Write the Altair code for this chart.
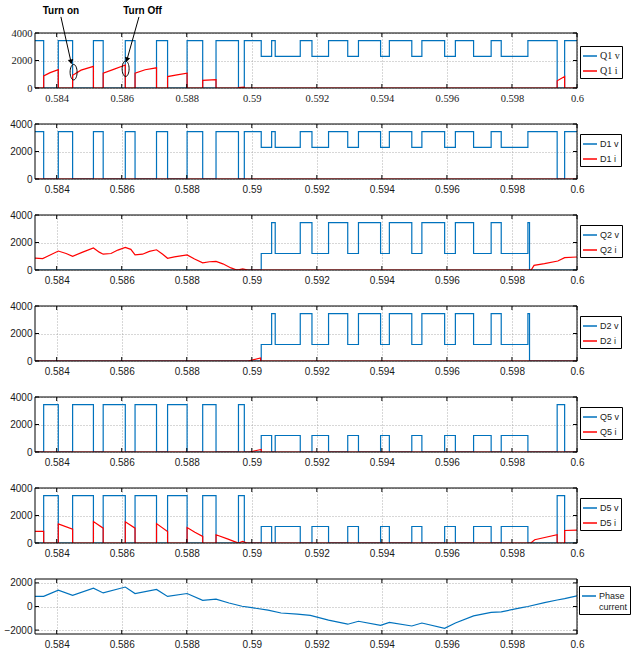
import altair as alt
import pandas as pd

BLUE = "#0072BD"
RED = "#FF0000"
SANS = "Liberation Sans Narrow, Arial Narrow, Liberation Sans, sans-serif"
SERIF = "Liberation Serif, Times New Roman, serif"
T0 = 0.6 - 1 / 60
T1 = 0.6
W, H = 542, 55
X_TICKS = [0.584, 0.586, 0.588, 0.59, 0.592, 0.594, 0.596, 0.598, 0.6]
Y_TICKS = [0, 2000, 4000]
Y_TICKS_PH = [-2000, 0, 2000]

# ---- switch voltages (step signals: time of change, new level) ----
q1v_t = [T0, 0.58360, 0.58405, 0.58449, 0.58513, 0.58543, 0.58611, 0.58641, 0.58707,
         0.58741, 0.58801, 0.58849, 0.58890, 0.58959, 0.58977, 0.59029, 0.59061, 0.59072,
         0.59149, 0.59185, 0.59236, 0.59295, 0.59328, 0.59396, 0.59423, 0.59492, 0.59523,
         0.59593, 0.59626, 0.59682, 0.59736, 0.59767, 0.59849, 0.59939, 0.59962, T1]
q1v = [3450, 0, 3450, 0, 3450, 0, 3450, 0, 3450,
       0, 3450, 0, 3450, 0, 3450, 2300, 3450, 2300,
       3450, 2300, 3450, 2300, 3450, 2300, 3450, 2300, 3450,
       2300, 3450, 2300, 3450, 2300, 3450, 0, 3450, 3450]

d1v_t = q1v_t
d1v = q1v

q2v_t = [T0, 0.59029, 0.59061, 0.59072, 0.59149, 0.59185, 0.59236, 0.59295, 0.59328,
         0.59396, 0.59423, 0.59492, 0.59523, 0.59593, 0.59626, 0.59682, 0.59736, 0.59767,
         0.59849, 0.59854, T1]
q2v = [0, 1200, 3450, 1200, 3450, 1200, 3450, 1200, 3450,
       1200, 3450, 1200, 3450, 1200, 3450, 1200, 3450, 1200,
       3450, 0, 0]

d2v_t = q2v_t
d2v = q2v

q5v_t = [T0, 0.58360, 0.58405, 0.58449, 0.58513, 0.58543, 0.58611, 0.58641, 0.58707,
         0.58741, 0.58801, 0.58849, 0.58890, 0.58959, 0.58977, 0.59029, 0.59061, 0.59072,
         0.59149, 0.59185, 0.59236, 0.59295, 0.59328, 0.59396, 0.59423, 0.59492, 0.59523,
         0.59593, 0.59626, 0.59682, 0.59736, 0.59767, 0.59849, 0.59939, 0.59962, T1]
q5v = [0, 3450, 0, 3450, 0, 3450, 0, 3450, 0,
       3450, 0, 3450, 0, 3450, 0, 1200, 0, 1200,
       0, 1200, 0, 1200, 0, 1200, 0, 1200, 0,
       1200, 0, 1200, 0, 1200, 0, 3450, 0, 0]

d5v_t = q5v_t
d5v = q5v

# ---- switch currents (sampled points; repeated times are jumps) ----
q1i_t = [T0, 0.58360, 0.58360, 0.58380, 0.58405, 0.58405,
         0.58449, 0.58449, 0.58475, 0.58513, 0.58513,
         0.58543, 0.58543, 0.58575, 0.58611, 0.58611,
         0.58641, 0.58641, 0.58672, 0.58707, 0.58707,
         0.58741, 0.58741, 0.58770, 0.58801, 0.58801,
         0.58849, 0.58849, 0.58890, 0.58890,
         0.58959, 0.58959, 0.58977, 0.58977,
         0.59939, 0.59939, 0.59962, 0.59962, T1]
q1i = [0, 0, 880, 1120, 1330, 0,
       0, 920, 1300, 1570, 0,
       0, 1080, 1350, 1670, 0,
       0, 1080, 1330, 1470, 0,
       0, 830, 960, 1080, 0,
       0, 560, 610, 0,
       0, 30, 70, 0,
       0, 520, 840, 0, 0]

d1i_t = [T0, T1]
d1i = [0, 0]

q2i_t = [T0, 0.58357, 0.58372, 0.58405, 0.58429, 0.58449, 0.58480, 0.58513, 0.58531,
         0.58543, 0.58567, 0.58588, 0.58611, 0.58628, 0.58641, 0.58664, 0.58685, 0.58707,
         0.58726, 0.58741, 0.58762, 0.58801, 0.58824, 0.58849, 0.58870, 0.58890, 0.58911,
         0.58936, 0.58952, 0.58962, 0.58972, 0.58988, 0.59859, 0.59868, 0.59900, 0.59941,
         0.59962, T1]
q2i = [870, 830, 1000, 1380, 1200, 1000, 1300, 1600, 1300,
       1150, 1200, 1450, 1650, 1500, 1100, 1150, 1350, 1470,
       1150, 850, 950, 1100, 800, 520, 600, 620, 450,
       150, 20, 30, 80, 0, 0, 340, 460, 655,
       900, 945]

d2i_t = [T0, 0.58988, 0.59027, 0.59027, T1]
d2i = [0, 0, 220, 0, 0]

q5i_t = [T0, 0.58993, 0.59029, 0.59029, T1]
q5i = [0, 0, 190, 0, 0]

d5i_t = [T0, 0.58360, 0.58360, 0.58405, 0.58405, 0.58449, 0.58449,
         0.58513, 0.58513, 0.58543, 0.58543, 0.58611, 0.58611, 0.58641, 0.58641,
         0.58707, 0.58707, 0.58741, 0.58741, 0.58801, 0.58801, 0.58825, 0.58849, 0.58849,
         0.58890, 0.58890, 0.58925, 0.58945, 0.58959, 0.58972, 0.58985, 0.59858, 0.59870,
         0.59939, 0.59939, 0.59962, 0.59962, T1]
d5i = [840, 840, 0, 0, 1390, 1000, 0,
       0, 1560, 1080, 0, 0, 1540, 1080, 0,
       0, 1410, 840, 0, 0, 1130, 780, 480, 0,
       0, 600, 300, 120, 0, 110, 0, 0, 240,
       600, 0, 0, 910, 940]

# ---- phase current ----
ph_t = [T0, 0.58360, 0.58405, 0.58449, 0.58513, 0.58543, 0.58611, 0.58641, 0.58707,
        0.58741, 0.58801, 0.58849, 0.58890, 0.58930, 0.58970, 0.59000, 0.59050, 0.59090,
        0.59140, 0.59180, 0.59236, 0.59295, 0.59328, 0.59396, 0.59423, 0.59492, 0.59523,
        0.59593, 0.59626, 0.59682, 0.59736, 0.59767, 0.59830, 0.59849, 0.59900, 0.59939,
        0.59962, T1]
ph = [850, 860, 1380, 950, 1550, 1150, 1650, 1100, 1450,
      850, 1100, 520, 620, 300, 20, -100, -300, -550,
      -650, -750, -1150, -1500, -1250, -1600, -1350, -1650, -1400,
      -1850, -1400, -800, -500, -450, -100, 0, 330, 550,
      670, 900]

# ---- annotations (panel 1) ----
ann_label = ["Turn on", "Turn Off"]
ann_text_t = [0.58413, 0.58664]
ann_text_y = [5565, 5565]
arrow_t = [0.58413, 0.58653]
arrow_y = [5170, 5170]
arrow_t2 = [0.58444, 0.58616]
arrow_y2 = [1900, 2050]
arrow_angle = [348, 15]
ell_t = [0.58452, 0.58612]
ell_y = [1150, 1400]


def df_of(ts, vs, name):
    return pd.DataFrame({"t": ts, "val": vs, "series": name, "idx": list(range(len(ts)))})


def panel(names, series, ydom, yticks, font, fsize, legend_y, sym=196, label_expr=None,
          leg_x=545, leg_pad=2, leg_fsize=None, extra=None):
    xs = alt.Scale(domain=[T0, T1], nice=False, zero=False)
    ys = alt.Scale(domain=ydom, nice=False, zero=False)
    xa = alt.Axis(values=X_TICKS, format=".3~f", title=None, grid=True, gridDash=[1, 2],
                  gridColor="#9a9a9a", gridWidth=0.8, ticks=False, domain=False,
                  labelFont=font, labelFontSize=fsize, labelColor="#1a1a1a",
                  labelPadding=5, labelFlush=False, labelOverlap=False)
    ya = alt.Axis(values=yticks, format="d", title=None, grid=True, gridDash=[1, 2],
                  gridColor="#9a9a9a", gridWidth=0.8, ticks=False, domain=False,
                  labelFont=font, labelFontSize=fsize, labelColor="#1a1a1a",
                  labelPadding=3, labelFlush=False, labelOverlap=False)
    X = alt.X("t:Q", scale=xs, axis=xa)
    Y = alt.Y("val:Q", scale=ys, axis=ya)
    leg_kw = dict(orient="none", legendX=leg_x, legendY=legend_y, title=None,
                  direction="vertical", symbolType="stroke", symbolSize=sym,
                  symbolStrokeWidth=1.5, labelFont=font, labelFontSize=leg_fsize or fsize,
                  labelColor="#1a1a1a", strokeColor="black", fillColor="white",
                  padding=leg_pad, rowPadding=2, labelOffset=2, labelLimit=80)
    if label_expr:
        leg_kw["labelExpr"] = label_expr
    rng = [BLUE, RED][:len(names)]
    C = alt.Color("series:N", scale=alt.Scale(domain=names, range=rng),
                  legend=alt.Legend(**leg_kw))
    layers = []
    for df, interp in series:
        layers.append(alt.Chart(df).mark_line(interpolate=interp, clip=True, strokeWidth=1.2)
                      .encode(x=X, y=Y, color=C, order=alt.Order("idx:Q")))
    xt = pd.DataFrame({"t": X_TICKS})
    yt = pd.DataFrame({"val": yticks})
    layers.append(alt.Chart(xt).mark_rule(color="black", strokeWidth=1)
                  .encode(x=X, y=alt.value(0), y2=alt.value(4)))
    layers.append(alt.Chart(xt).mark_rule(color="black", strokeWidth=1)
                  .encode(x=X, y=alt.value(H - 4), y2=alt.value(H)))
    layers.append(alt.Chart(yt).mark_rule(color="black", strokeWidth=1)
                  .encode(y=Y, x=alt.value(0), x2=alt.value(4)))
    layers.append(alt.Chart(yt).mark_rule(color="black", strokeWidth=1)
                  .encode(y=Y, x=alt.value(W - 4), x2=alt.value(W)))
    layers.append(alt.Chart(pd.DataFrame({"a": [0]})).mark_rect(fillOpacity=0, stroke="black", strokeWidth=1)
                  .encode(x=alt.value(0), x2=alt.value(W), y=alt.value(0), y2=alt.value(H)))
    if extra:
        layers += extra(X, Y)
    return alt.layer(*layers).properties(width=W, height=H)


def annotations(X, Y):
    tdf = pd.DataFrame({"t": ann_text_t, "val": ann_text_y, "label": ann_label})
    adf = pd.DataFrame({"t": arrow_t, "val": arrow_y, "t2": arrow_t2, "val2": arrow_y2})
    hdf = pd.DataFrame({"t": arrow_t2, "val": arrow_y2, "ang": arrow_angle})
    edf = pd.DataFrame({"t": ell_t, "val": ell_y})
    ell = "M0,-1A0.45,1 0 1,1 0,1A0.45,1 0 1,1 0,-1Z"
    return [
        alt.Chart(tdf).mark_text(font="Liberation Sans Narrow, Liberation Sans, sans-serif",
                                 fontSize=10, fontWeight="bold", color="black")
        .encode(x=X, y=Y, text="label:N"),
        alt.Chart(adf).mark_rule(color="black", strokeWidth=1)
        .encode(x=X, y=Y, x2=alt.X2("t2"), y2=alt.Y2("val2")),
        alt.Chart(hdf).mark_point(shape="triangle-down", filled=True, color="black", size=30, opacity=1)
        .encode(x=X, y=Y, angle=alt.Angle("ang:Q", scale=None)),
        alt.Chart(edf).mark_point(shape=ell, filled=False, color="black", strokeWidth=1, size=240, opacity=1)
        .encode(x=X, y=Y),
    ]


p1 = panel(["Q1 v", "Q1 i"],
           [(df_of(q1v_t, q1v, "Q1 v"), "step-after"), (df_of(q1i_t, q1i, "Q1 i"), "linear")],
           [0, 4000], Y_TICKS, SERIF, 10.5, 13, leg_fsize=10, extra=annotations)
p2 = panel(["D1 v", "D1 i"],
           [(df_of(d1v_t, d1v, "D1 v"), "step-after"), (df_of(d1i_t, d1i, "D1 i"), "linear")],
           [0, 4000], Y_TICKS, SANS, 10, 10, leg_fsize=9)
p3 = panel(["Q2 v", "Q2 i"],
           [(df_of(q2v_t, q2v, "Q2 v"), "step-after"), (df_of(q2i_t, q2i, "Q2 i"), "linear")],
           [0, 4000], Y_TICKS, SANS, 10, 10, leg_fsize=9)
p4 = panel(["D2 v", "D2 i"],
           [(df_of(d2v_t, d2v, "D2 v"), "step-after"), (df_of(d2i_t, d2i, "D2 i"), "linear")],
           [0, 4000], Y_TICKS, SANS, 10, 10, leg_fsize=9)
p5 = panel(["Q5 v", "Q5 i"],
           [(df_of(q5v_t, q5v, "Q5 v"), "step-after"), (df_of(q5i_t, q5i, "Q5 i"), "linear")],
           [0, 4000], Y_TICKS, SANS, 10, 10, leg_fsize=9)
p6 = panel(["D5 v", "D5 i"],
           [(df_of(d5v_t, d5v, "D5 v"), "step-after"), (df_of(d5i_t, d5i, "D5 i"), "linear")],
           [0, 4000], Y_TICKS, SANS, 10, 10, leg_fsize=9)
p7 = panel(["Phase current"],
           [(df_of(ph_t, ph, "Phase current"), "linear")],
           [-2330, 2330], Y_TICKS_PH, SANS, 10, 7, sym=196, leg_x=544, leg_pad=2, leg_fsize=9,
           label_expr="split(datum.label, ' ')")

chart = (
    alt.vconcat(p1, p2, p3, p4, p5, p6, p7, spacing=36, bounds="flush")
    .resolve_scale(color="independent")
    .properties(padding={"left": 3, "top": 6, "right": 0, "bottom": 0}, background="white")
    .configure_view(stroke=None)
)

chart.save("out.html", embed_options={"renderer": "svg", "actions": False})
